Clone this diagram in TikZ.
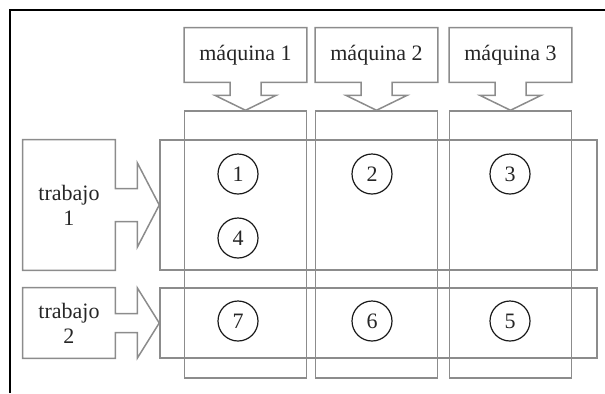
\documentclass[tikz,border=0pt]{standalone}
\usepackage{fontspec}
\setmainfont{Liberation Serif}
\usepackage{tikz}
\usetikzlibrary{calc}

\begin{document}
\begin{tikzpicture}[
  x=0.5pt, y=-0.5pt,
  font=\fontsize{11}{12.5}\selectfont,
  outl/.style   = {draw=black!45, line width=0.75pt},
  mbox/.style   = {minimum width=61pt, minimum height=27pt, inner sep=0pt,
                   text=black!85},
  tbox/.style   = {minimum width=46pt, inner sep=0pt, align=center,
                   text=black!85},
  colbox/.style = {outl, minimum width=61pt, minimum height=133.5pt},
  rowbox/.style = {outl, minimum width=218.5pt},
  num/.style    = {circle, draw=black!90, line width=0.6pt,
                   minimum size=20pt, inner sep=0pt, text=black!85}
]
\useasboundingbox (0,0) rectangle (605,393);
\draw[line width=1pt] (10,393) -- (10,10) -- (605,10);

% machines and their columns
\node[mbox]   (m1) at (245.5,55)  {máquina 1};
\node[mbox]   (m2) at (376.5,55)  {máquina 2};
\node[mbox]   (m3) at (510.5,55)  {máquina 3};
\node[colbox] (c1) at (245.5,244.5) {};
\node[colbox] (c2) at (376.5,244.5) {};
\node[colbox] (c3) at (510.5,244.5) {};

% jobs and their rows
\node[rowbox, minimum height=65pt] (r1) at (378.5,205) {};
\node[rowbox, minimum height=35pt] (r2) at (378.5,323) {};
\node[tbox, minimum height=65pt] (t1) at (69,205) {trabajo\\1};
\node[tbox, minimum height=35pt] (t2) at (69,323) {trabajo\\2};

% operations
\node[num] (o1) at (238,174) {1};
\node[num] (o2) at (372,174) {2};
\node[num] (o3) at (510,174) {3};
\node[num] (o4) at (238,238) {4};
\node[num] (o7) at (238,321) {7};
\node[num] (o6) at (372,321) {6};
\node[num] (o5) at (510,321) {5};

% box outlines with block arrows
\draw[outl] (m1.south west) -- ($(m1.south)+(-15.5,0)$) -- ++(0,13)
  -- ($(m1.south)+(-30.5,13)$) -- (c1.north) -- ($(m1.south)+(30.5,13)$)
  -- ($(m1.south)+(15.5,13)$) -- ++(0,-13) -- (m1.south east)
  -- (m1.north east) -- (m1.north west) -- cycle;
\draw[outl] (m2.south west) -- ($(m2.south)+(-15.5,0)$) -- ++(0,13)
  -- ($(m2.south)+(-30.5,13)$) -- (c2.north) -- ($(m2.south)+(30.5,13)$)
  -- ($(m2.south)+(15.5,13)$) -- ++(0,-13) -- (m2.south east)
  -- (m2.north east) -- (m2.north west) -- cycle;
\draw[outl] (m3.south west) -- ($(m3.south)+(-15.5,0)$) -- ++(0,13)
  -- ($(m3.south)+(-30.5,13)$) -- (c3.north) -- ($(m3.south)+(30.5,13)$)
  -- ($(m3.south)+(15.5,13)$) -- ++(0,-13) -- (m3.south east)
  -- (m3.north east) -- (m3.north west) -- cycle;

\draw[outl] (t1.north west) -- (t1.north east) -- ($(t1.east)+(0,-16.5)$)
  -- ++(22,0) -- ($(t1.east)+(22,-42)$) -- (r1.west) -- ($(t1.east)+(22,42)$)
  -- ($(t1.east)+(22,16.5)$) -- ($(t1.east)+(0,16.5)$) -- (t1.south east)
  -- (t1.south west) -- cycle;
\draw[outl] (t2.north west) -- (t2.north east) -- ($(t2.east)+(0,-9.5)$)
  -- ++(22,0) -- ($(t2.east)+(22,-35)$) -- (r2.west) -- ($(t2.east)+(22,35)$)
  -- ($(t2.east)+(22,9.5)$) -- ($(t2.east)+(0,9.5)$) -- (t2.south east)
  -- (t2.south west) -- cycle;
\end{tikzpicture}
\end{document}
